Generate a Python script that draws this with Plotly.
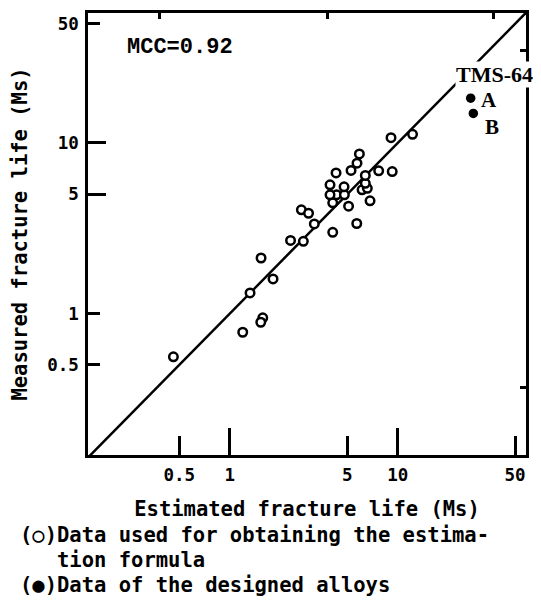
import numpy as np
import plotly.graph_objects as go

# ---- data ----
est_open = [0.461, 1.193, 1.570, 1.528, 1.319, 1.534, 1.808, 2.299, 2.74, 2.666,
            2.943, 3.185, 4.10, 5.70, 4.10, 5.095, 6.84, 3.95, 4.32, 4.81,
            4.79, 6.13, 6.59, 6.41, 6.41, 4.29, 5.27, 5.72, 5.91, 7.70,
            9.27, 9.12, 12.25, 3.95]
meas_open = [0.557, 0.776, 0.943, 0.888, 1.320, 2.115, 1.594, 2.68, 2.65, 4.055,
             3.87, 3.35, 2.99, 3.37, 4.456, 4.26, 4.58, 5.68, 4.96, 4.96,
             5.53, 5.31, 5.42, 5.80, 6.45, 6.67, 6.90, 7.61, 8.62, 6.86,
             6.79, 10.73, 11.24, 4.96]
est_designed = [27.2, 28.2]
meas_designed = [18.3, 14.9]
designed_labels = ["A", "B"]
designed_name = "TMS-64"
identity_line = [0.1, 100]

x_ticks = [0.5, 1, 5, 10, 50]
x_tick_text = ["0.5", "1", "5", "10", "50"]
y_ticks = [0.5, 1, 5, 10, 50]
y_tick_text = ["0.5", "1", "5", "10", "50"]
top_ticks = [0.38, 3.8, 37]
right_ticks = [0.37, 35]

x_title = "Estimated fracture life (Ms)"
y_title = "Measured fracture life (Ms)"
mcc_text = "MCC=0.92"
note_lines = ["(○)Data used for obtaining the estima-",
              "   tion formula",
              "(●)Data of the designed alloys"]

XR = [-0.845, 1.764]
YR = [-0.83, 1.762]

MONO = "DejaVu Sans Mono"
fig = go.Figure()
fig.add_trace(go.Scatter(x=identity_line, y=identity_line, mode="lines",
                         line=dict(color="black", width=2.5),
                         xaxis="x", yaxis="y", showlegend=False, hoverinfo="skip"))
fig.add_trace(go.Scatter(x=est_open, y=meas_open, mode="markers",
                         marker=dict(symbol="circle", size=8.5, color="white",
                                     line=dict(color="black", width=2.5)),
                         xaxis="x2", yaxis="y2", showlegend=False))
fig.add_trace(go.Scatter(x=est_designed, y=meas_designed, mode="markers",
                         marker=dict(symbol="circle", size=9.5, color="black", line=dict(width=0)),
                         xaxis="x2", yaxis="y2", showlegend=False))

tickfont = dict(family=MONO, size=17.5, color="black", weight="bold")
titlefont = dict(family=MONO, size=20.5, color="black", weight="bold")

# the page body adds an 8 px offset, so the figure is 8 px smaller than the window
fig.update_layout(
    width=533, height=596,
    margin=dict(l=80, r=15, t=5, b=149),
    paper_bgcolor="white", plot_bgcolor="white",
    showlegend=False,
    xaxis=dict(type="log", range=XR, tickmode="array", tickvals=x_ticks, ticktext=x_tick_text,
               ticks="inside", ticklen=19, tickwidth=3, tickcolor="black", automargin=False,
               showline=True, linewidth=2.5, linecolor="black", mirror=True,
               showgrid=False, zeroline=False, tickfont=tickfont, ticklabelstandoff=2,
               minor=dict(tickmode="array", tickvals=[1, 10], ticks="inside", ticklen=27,
                          tickwidth=3, tickcolor="black", showgrid=False),
               title=dict(text=x_title, font=titlefont, standoff=18)),
    yaxis=dict(type="log", range=YR, tickmode="array", tickvals=y_ticks, ticktext=y_tick_text,
               ticks="inside", ticklen=12, tickwidth=3, tickcolor="black", automargin=False,
               showline=True, linewidth=2.5, linecolor="black", mirror=True,
               showgrid=False, zeroline=False, tickfont=tickfont, ticklabelstandoff=3,
               minor=dict(tickmode="array", tickvals=[5, 10], ticks="inside", ticklen=18,
                          tickwidth=3, tickcolor="black", showgrid=False),
               title=dict(text=y_title, font=titlefont, standoff=15)),
    xaxis2=dict(type="log", range=XR, overlaying="x", side="top", anchor="y2", automargin=False,
                tickmode="array", tickvals=top_ticks, ticks="inside", ticklen=6, tickwidth=2.5,
                tickcolor="black", showticklabels=False, showline=False, showgrid=False,
                zeroline=False),
    yaxis2=dict(type="log", range=YR, overlaying="y", side="right", anchor="x2", automargin=False,
                tickmode="array", tickvals=right_ticks, ticks="inside", ticklen=6, tickwidth=2.5,
                tickcolor="black", showticklabels=False, showline=False, showgrid=False,
                zeroline=False),
)

annotations = []
annotations.append(dict(text=mcc_text, xref="paper", yref="paper", x=0.21, y=0.923,
                        xanchor="center", yanchor="middle",
                        showarrow=False, font=dict(family="Liberation Mono", size=22,
                                                   color="black", weight="bold")))
annotations.append(dict(text=designed_name, xref="paper", yref="paper", x=0.927, y=0.86,
                        xanchor="center", yanchor="middle",
                        showarrow=False, bgcolor="white", borderpad=0,
                        font=dict(family="Liberation Serif", size=22, color="black",
                                  weight="bold")))
shifts = [(18, -2), (19, -14)]
for xv, yv, lab, (dx, dy) in zip(est_designed, meas_designed, designed_labels, shifts):
    annotations.append(dict(text=lab, xref="x2", yref="y2", x=np.log10(xv), y=np.log10(yv),
                            xshift=dx, yshift=dy, showarrow=False,
                            xanchor="center", yanchor="middle",
                            font=dict(family="Liberation Serif", size=21, color="black",
                                      weight="bold")))
note_y = [-0.181, -0.237, -0.294]
for line, ny in zip(note_lines, note_y):
    annotations.append(dict(text=line.replace(" ", "&nbsp;"), xref="paper", yref="paper",
                            x=-0.16, y=ny, xanchor="left", yanchor="middle",
                            showarrow=False, align="left",
                            font=dict(family=MONO, size=20.5, color="black", weight="bold")))
fig.update_layout(annotations=annotations)

fig.write_html("out.html")
